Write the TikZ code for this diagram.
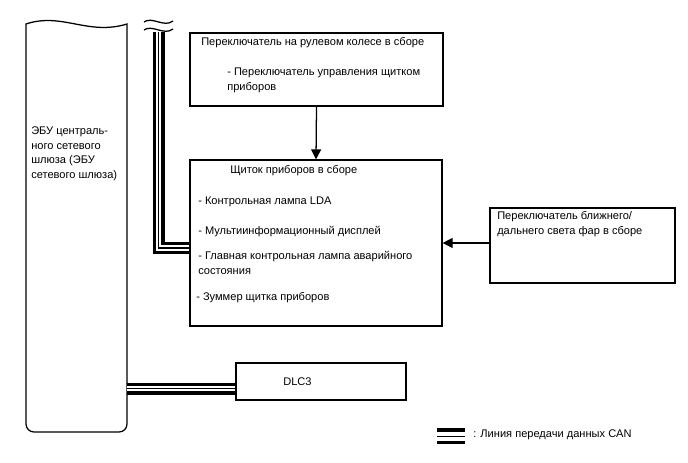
\documentclass[tikz,border=0pt]{standalone}
\usepackage{fontspec}
\setmainfont{Liberation Sans}
\usetikzlibrary{arrows.meta, positioning, fit}

\begin{document}
\begin{tikzpicture}[x=0.75pt, y=-0.75pt,
    font=\fontsize{8.3}{11}\selectfont,
    box/.style={draw, line width=0.95pt, inner sep=0pt},
    txt/.style={anchor=north west, inner sep=0pt, align=left},
    arr/.style={line width=0.95pt, -{Triangle[length=7.5pt, width=7.5pt]}},
    can/.style={line width=9pt, postaction={draw=white, line width=4.2pt}, postaction={draw=black, line width=1.2pt}},
    canleg/.style={line width=12pt, postaction={draw=white, line width=7.2pt}, postaction={draw=black, line width=1.2pt}}]
    \useasboundingbox (0,0) rectangle (688,463);

    % ECU (central gateway)
    \node[fit={(26,24) (127,432)}, inner sep=0pt] (ecu) {};
    \draw[line width=0.95pt] (26,24) .. controls (62,12) and (88,36) .. (127,24) -- (127,424) arc(0:90:8) -- (34,432) arc(90:180:8) -- cycle;
    \node[txt] (ecut) at (31,126.5) {ЭБУ централь-\\ного сетевого\\шлюза (ЭБУ\\сетевого шлюза)};

    % boxes
    \node[box, fit={(190,33) (443,106)}] (steer) {};
    \node[box, fit={(190,160) (442,326)}] (cluster) {};
    \node[box, fit={(490,208) (675,283)}] (hl) {};
    \node[box, fit={(236,363) (406,400)}] (dlc) {};

    \node[txt] (steert) at (201,37.5) {Переключатель на рулевом колесе в сборе};
    \node[txt] (steers) at (227,67.5) {- Переключатель управления щитком\\приборов};
    \node[txt] (clustert) at (230,165.5) {Щиток приборов в сборе};
    \node[txt] (lda) at (198,196.5) {- Контрольная лампа LDA};
    \node[txt] (mid) at (198,226.5) {- Мультиинформационный дисплей};
    \node[txt] (master) at (198,251.5) {- Главная контрольная лампа аварийного\\состояния};
    \node[txt] (buzzer) at (196,292.5) {- Зуммер щитка приборов};
    \node[txt] (hlt) at (497,211.5) {Переключатель ближнего/\\дальнего света фар в сборе};
    \node[txt] (dlct) at (283,377.5) {DLC3};

    % signals
    \draw[arr] (steer.south) -- (cluster.north);
    \draw[arr] ([yshift=1.9pt]hl.west) -- ([yshift=1.9pt]hl.west -| cluster.east);

    % CAN
    \draw[line width=0.95pt] (144,22) .. controls (152,16) and (164,28) .. (173,21);
    \draw[line width=0.95pt] (144,30) .. controls (152,24) and (164,36) .. (173,29);
    \coordinate (bustop) at (158.5,32);
    \draw[can] (bustop) |- ([yshift=-3.75pt]cluster.west);
    \draw[can] ([yshift=-5.25pt]dlc.west) -- ([yshift=-5.25pt]dlc.west -| ecu.east);

    \node[anchor=west, inner sep=0pt] (legend) at (473,435) {: Линия передачи данных CAN};
    \draw[canleg] ([xshift=-6pt, yshift=-1.1pt]legend.west) -- ++(-21pt,0);
\end{tikzpicture}
\end{document}
